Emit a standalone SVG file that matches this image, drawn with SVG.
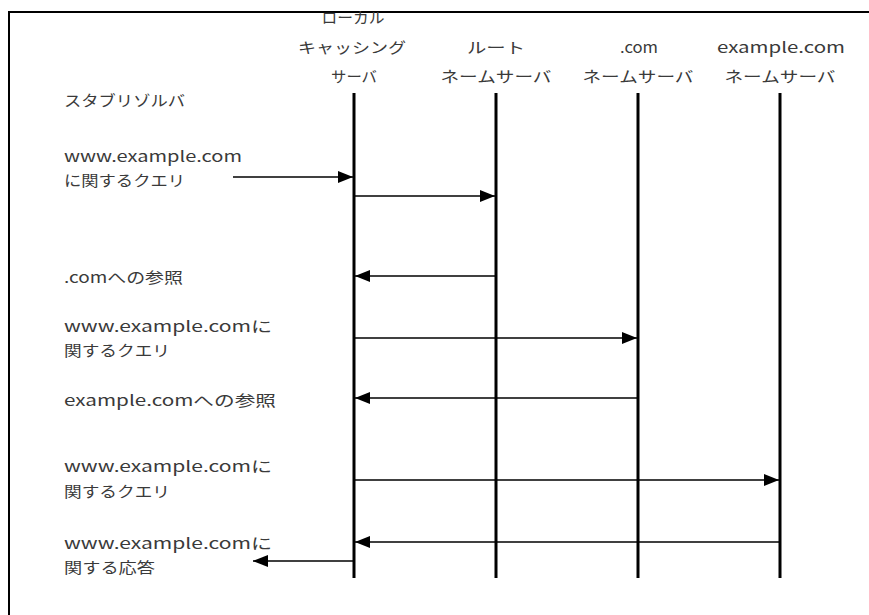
<svg xmlns="http://www.w3.org/2000/svg" width="869" height="615" viewBox="0 0 869 615">
<style>
.t{font-family:"Noto Sans CJK JP","Noto Sans",sans-serif;font-size:15px;fill:#3a3a3a}
.c{text-anchor:middle}
.life{stroke:#000;stroke-width:3}
.msg{stroke:#000;stroke-width:1.5;fill:none}
</style>
<defs>
<marker id="ah" markerWidth="15" markerHeight="12" refX="15" refY="6" orient="auto" markerUnits="userSpaceOnUse">
<path d="M0,0 L15,6 L0,12 Z" fill="#000"/>
</marker>
</defs>
<rect width="869" height="615" fill="#fff"/>
<path d="M9,615 V12 H869" fill="none" stroke="#000" stroke-width="2"/>
<g id="stub"><text class="t" x="64" y="106" textLength="121" lengthAdjust="spacingAndGlyphs">スタブリゾルバ</text></g>
<g id="local">
<text class="t c" x="353" y="23" textLength="63" lengthAdjust="spacingAndGlyphs">ローカル</text>
<text class="t c" x="352" y="53" textLength="108" lengthAdjust="spacingAndGlyphs">キャッシング</text>
<text class="t c" x="354" y="82" textLength="46" lengthAdjust="spacingAndGlyphs">サーバ</text>
<line class="life" x1="354" y1="93" x2="354" y2="578"/>
</g>
<g id="root">
<text class="t c" x="496" y="53" textLength="58" lengthAdjust="spacingAndGlyphs">ルート</text>
<text class="t c" x="496" y="82" textLength="111" lengthAdjust="spacingAndGlyphs">ネームサーバ</text>
<line class="life" x1="496" y1="93" x2="496" y2="578"/>
</g>
<g id="com">
<text class="t c" x="639" y="53" textLength="38" lengthAdjust="spacingAndGlyphs">.com</text>
<text class="t c" x="638" y="82" textLength="111" lengthAdjust="spacingAndGlyphs">ネームサーバ</text>
<line class="life" x1="638" y1="93" x2="638" y2="578"/>
</g>
<g id="example">
<text class="t c" x="781" y="53" textLength="128" lengthAdjust="spacingAndGlyphs">example.com</text>
<text class="t c" x="780" y="82" textLength="111" lengthAdjust="spacingAndGlyphs">ネームサーバ</text>
<line class="life" x1="780" y1="93" x2="780" y2="578"/>
</g>
<g id="labels">
<text class="t" x="64" y="162" textLength="178" lengthAdjust="spacingAndGlyphs">www.example.com</text>
<text class="t" x="64" y="186" textLength="121" lengthAdjust="spacingAndGlyphs">に関するクエリ</text>
<text class="t" x="64" y="283" textLength="119" lengthAdjust="spacingAndGlyphs">.comへの参照</text>
<text class="t" x="64" y="332" textLength="208" lengthAdjust="spacingAndGlyphs">www.example.comに</text>
<text class="t" x="64" y="356" textLength="106" lengthAdjust="spacingAndGlyphs">関するクエリ</text>
<text class="t" x="64" y="406" textLength="212" lengthAdjust="spacingAndGlyphs">example.comへの参照</text>
<text class="t" x="64" y="472" textLength="208" lengthAdjust="spacingAndGlyphs">www.example.comに</text>
<text class="t" x="64" y="497" textLength="106" lengthAdjust="spacingAndGlyphs">関するクエリ</text>
<text class="t" x="64" y="549" textLength="208" lengthAdjust="spacingAndGlyphs">www.example.comに</text>
<text class="t" x="64" y="573" textLength="91" lengthAdjust="spacingAndGlyphs">関する応答</text>
</g>
<g id="connectors">
<line class="msg" x1="233" y1="177" x2="353" y2="177" marker-end="url(#ah)"/>
<line class="msg" x1="355" y1="196" x2="495" y2="196" marker-end="url(#ah)"/>
<line class="msg" x1="496" y1="276" x2="355" y2="276" marker-end="url(#ah)"/>
<line class="msg" x1="355" y1="338" x2="637" y2="338" marker-end="url(#ah)"/>
<line class="msg" x1="638" y1="398" x2="355" y2="398" marker-end="url(#ah)"/>
<line class="msg" x1="355" y1="480" x2="779" y2="480" marker-end="url(#ah)"/>
<line class="msg" x1="780" y1="542" x2="355" y2="542" marker-end="url(#ah)"/>
<line class="msg" x1="354" y1="561" x2="253" y2="561" marker-end="url(#ah)"/>
</g>
</svg>
